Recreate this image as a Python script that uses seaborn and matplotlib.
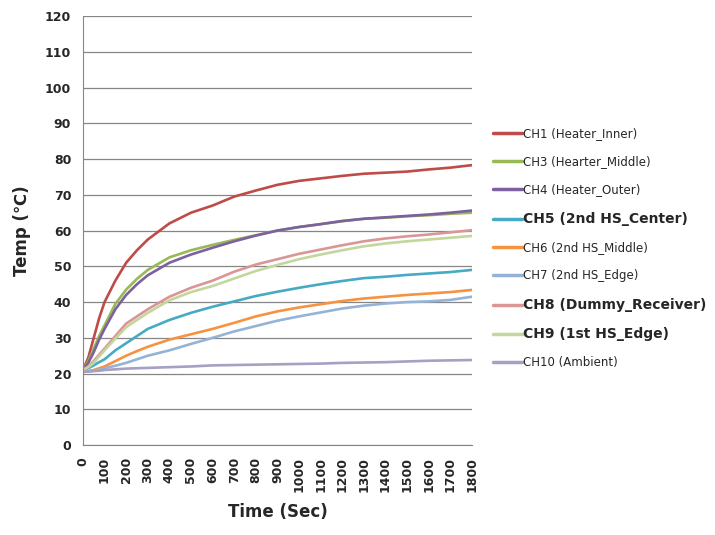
import matplotlib
matplotlib.use("Agg")
import matplotlib.pyplot as plt
import seaborn as sns
import pandas as pd

# time axis (sec)
time = [0, 25, 50, 75, 100, 150, 200, 250, 300, 400, 500, 600, 700, 800, 900,
        1000, 1100, 1200, 1300, 1400, 1500, 1600, 1700, 1800]

ch1 = [21, 24.5, 30, 35.5, 40, 46, 51, 54.5, 57.5, 62, 65, 67, 69.5, 71.2, 72.8,
       73.9, 74.6, 75.3, 75.9, 76.2, 76.5, 77.1, 77.6, 78.3]
ch3 = [21, 23.5, 27, 30.5, 33.5, 39.5, 43.5, 46.5, 49, 52.5, 54.5, 56, 57.4, 58.7, 60,
       61, 61.8, 62.6, 63.3, 63.6, 64, 64.3, 64.7, 65]
ch4 = [21, 23, 26, 29.5, 32.5, 38, 42, 45, 47.5, 51, 53.3, 55.2, 57, 58.6, 60,
       61, 61.8, 62.7, 63.3, 63.7, 64.1, 64.5, 65, 65.6]
ch5 = [21, 21.5, 22.3, 23.2, 24, 26.5, 28.5, 30.5, 32.5, 35, 37, 38.7, 40.2, 41.7, 42.9,
       44, 45, 45.9, 46.7, 47.1, 47.6, 48, 48.4, 49]
ch6 = [20.5, 20.7, 21, 21.5, 22, 23.5, 25, 26.3, 27.5, 29.5, 31, 32.5, 34.2, 36, 37.4,
       38.5, 39.4, 40.3, 41, 41.5, 42, 42.4, 42.8, 43.4]
ch7 = [20.5, 20.6, 20.8, 21.1, 21.5, 22.2, 23, 24, 25, 26.5, 28.3, 30, 31.8, 33.3, 34.8,
       36, 37.1, 38.2, 39, 39.6, 40, 40.2, 40.6, 41.5]
ch8 = [21, 22, 23.5, 25.3, 27, 30.5, 34, 36, 38, 41.5, 44, 46, 48.5, 50.5, 52,
       53.5, 54.7, 55.9, 57, 57.8, 58.4, 58.9, 59.5, 60.1]
ch9 = [21, 21.8, 23, 24.8, 26.5, 29.8, 33, 35, 37, 40.5, 42.8, 44.5, 46.6, 48.7, 50.4,
       52, 53.3, 54.5, 55.6, 56.4, 57, 57.5, 58, 58.5]
ch10 = [20.5, 20.6, 20.7, 20.8, 21, 21.2, 21.4, 21.5, 21.6, 21.8, 22, 22.3, 22.4, 22.5, 22.6,
        22.7, 22.8, 23, 23.1, 23.2, 23.4, 23.6, 23.7, 23.8]

labels = ["CH1 (Heater_Inner)", "CH3 (Hearter_Middle)", "CH4 (Heater_Outer)",
          "CH5 (2nd HS_Center)", "CH6 (2nd HS_Middle)", "CH7 (2nd HS_Edge)",
          "CH8 (Dummy_Receiver)", "CH9 (1st HS_Edge)", "CH10 (Ambient)"]
series = [ch1, ch3, ch4, ch5, ch6, ch7, ch8, ch9, ch10]
colors = ["#BE4B48", "#98B954", "#7D60A0", "#46AAC5", "#F69240",
          "#95B3D7", "#D99694", "#C3D69B", "#A7A0C4"]
bold_labels = ["CH5 (2nd HS_Center)", "CH8 (Dummy_Receiver)", "CH9 (1st HS_Edge)"]

rows = []
for lab, vals in zip(labels, series):
    for t, v in zip(time, vals):
        rows.append({"Time": t, "Temp": v, "Channel": lab})
df = pd.DataFrame(rows)

sns.set_style("white")
plt.rcParams["font.family"] = ["DejaVu Sans"]

fig = plt.figure(figsize=(7.15, 5.35), dpi=100)
ax = fig.add_axes([0.116, 0.168, 0.544, 0.802])

sns.lineplot(data=df, x="Time", y="Temp", hue="Channel", hue_order=labels,
             palette=colors, linewidth=1.9, ax=ax)

ax.set_xlim(0, 1800)
ax.set_ylim(0, 120)
ax.set_xticks(range(0, 1801, 100))
ax.set_yticks(range(0, 121, 10))
ax.yaxis.grid(True, color="#868686", linewidth=0.9)
ax.set_axisbelow(True)
for s in ["top", "right"]:
    ax.spines[s].set_visible(False)
for s in ["left", "bottom"]:
    ax.spines[s].set_color("#868686")
ax.tick_params(axis="both", direction="out", length=5, color="#868686", width=0.9)
ax.tick_params(axis="y", labelsize=9)
ax.tick_params(axis="x", labelsize=9, rotation=90)
for lbl in ax.get_xticklabels() + ax.get_yticklabels():
    lbl.set_fontweight("bold")

ax.set_xlabel("Time (Sec)", fontsize=12, fontweight="bold", labelpad=8)
ax.set_ylabel("Temp (\u2103)", fontsize=12, fontweight="bold", labelpad=10)

ax.get_legend().remove()
handles, _ = ax.get_legend_handles_labels()
for h in handles:
    h.set_linewidth(2.5)
leg = fig.legend(handles[:len(labels)], labels, loc="upper left",
                 bbox_to_anchor=(0.675, 0.783), frameon=False, fontsize=8.5,
                 handlelength=2.4, handletextpad=0.15, labelspacing=1.3)
for txt in leg.get_texts():
    if txt.get_text() in bold_labels:
        txt.set_fontweight("bold")
        txt.set_fontsize(10)

fig.savefig("out.png", dpi=100)
